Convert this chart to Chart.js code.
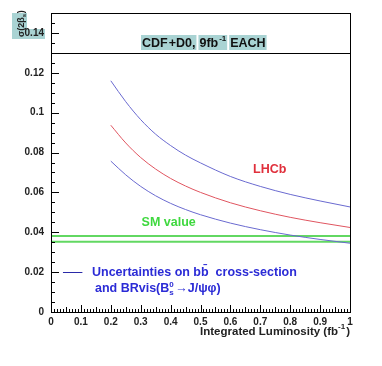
<!DOCTYPE html>
<html>
<head>
<meta charset="utf-8">
<script src="https://cdn.jsdelivr.net/npm/chart.js@4"></script>
<style>
  html, body { margin: 0; padding: 0; background: #fff; }
  #wrap { width: 382px; height: 366px; }
</style>
</head>
<body>
<div id="wrap"><canvas id="chart" width="382" height="366"></canvas></div>
<script>
// values
const lumi = [0.2, 0.25, 0.3, 0.35, 0.4, 0.45, 0.5, 0.6, 0.7, 0.8, 0.9, 1.0];
const upperBand = [0.116, 0.1055, 0.0965, 0.0892, 0.0835, 0.0787, 0.0748, 0.068, 0.063, 0.059, 0.0557, 0.0527];
const central = [0.0937, 0.0848, 0.0775, 0.0717, 0.067, 0.0632, 0.060, 0.0548, 0.0508, 0.0475, 0.0448, 0.0424];
const lowerBand = [0.0757, 0.0688, 0.063, 0.0583, 0.0545, 0.0514, 0.0488, 0.0446, 0.0413, 0.0386, 0.0364, 0.0345];
const smRange = [0, 1];
const smLow = [0.0353, 0.0353];
const smHigh = [0.0381, 0.0381];
const xTicks = [0, 0.1, 0.2, 0.3, 0.4, 0.5, 0.6, 0.7, 0.8, 0.9, 1];
const yTicks = [0, 0.02, 0.04, 0.06, 0.08, 0.1, 0.12, 0.14];
const headerLine = 0.13;

const FAMILY = "'Liberation Sans', Arial, sans-serif";
const TEAL = "#a9d3d3";

function font(size) {
  return "bold " + size + "px " + FAMILY;
}

function pts(xs, ys) {
  return xs.map((x, i) => ({ x: x, y: ys[i] }));
}

function curve(data, color) {
  return {
    data: data,
    borderColor: color,
    borderWidth: 1,
    pointRadius: 0,
    cubicInterpolationMode: "monotone",
    fill: false,
  };
}

// title pieces: text, gap before it
const titleParts = [["CDF", 0], ["+D0,", 1], ["9fb", 4], ["EACH", 4]];
const TITLE_X = 142;
const TITLE_Y = 47;

// frame, inside ticks, header line and all the free text
const decorations = {
  id: "decorations",
  beforeDraw(chart) {
    const ctx = chart.ctx;
    ctx.save();
    // highlight behind y-axis label and 0.14
    ctx.fillStyle = TEAL;
    ctx.fillRect(12, 13, 15, 25);
    ctx.fillRect(12, 29, 33, 10);
    // title highlight boxes
    ctx.font = font(12.5);
    let cx = TITLE_X;
    titleParts.forEach(([p, gap]) => {
      cx += gap;
      let w = ctx.measureText(p).width;
      if (p === "9fb") w += 8; // room for the -1 superscript
      ctx.fillRect(cx - 1, 35, w + 2, 15);
      cx += w;
    });
    ctx.restore();
  },
  afterDatasetsDraw(chart) {
    const ctx = chart.ctx;
    const x = chart.scales.x;
    const y = chart.scales.y;
    const a = chart.chartArea;
    ctx.save();
    ctx.strokeStyle = "#000";
    ctx.lineWidth = 1;
    ctx.strokeRect(Math.round(a.left) + 0.5, Math.round(a.top) + 0.5,
      Math.round(a.right - a.left), Math.round(a.bottom - a.top));
    // header separator
    const hy = Math.round(y.getPixelForValue(headerLine)) + 0.5;
    ctx.beginPath();
    ctx.moveTo(a.left, hy);
    ctx.lineTo(a.right, hy);
    ctx.stroke();

    // y ticks pointing inward (minor every 0.005)
    ctx.beginPath();
    for (let k = 0; k <= 30; k++) {
      const py = Math.round(y.getPixelForValue(k * 0.005)) + 0.5;
      const len = k % 4 === 0 ? 8 : 4;
      ctx.moveTo(a.left, py);
      ctx.lineTo(a.left + len, py);
    }
    // x ticks pointing up (minor every 0.01)
    for (let k = 0; k <= 100; k++) {
      const px = Math.round(x.getPixelForValue(k / 100)) + 0.5;
      const len = k % 10 === 0 ? 7 : (k % 5 === 0 ? 5 : 3);
      ctx.moveTo(px, a.bottom);
      ctx.lineTo(px, a.bottom - len);
    }
    ctx.stroke();

    // title
    ctx.fillStyle = "#111";
    ctx.textBaseline = "alphabetic";
    ctx.font = font(12.5);
    let tx = TITLE_X;
    titleParts.forEach(([p, gap]) => {
      tx += gap;
      ctx.font = font(12.5);
      ctx.fillText(p, tx, TITLE_Y);
      tx += ctx.measureText(p).width;
      if (p === "9fb") {
        ctx.font = font(8);
        ctx.fillText("-1", tx + 1, TITLE_Y - 6);
        tx += 8;
      }
    });

    // y-axis label, rotated
    ctx.save();
    ctx.translate(24, 37);
    ctx.rotate(-Math.PI / 2);
    ctx.font = font(9);
    ctx.fillStyle = "#222";
    ctx.fillText("\u03c3(2\u03b2", 0, 0);
    let lx = ctx.measureText("\u03c3(2\u03b2").width;
    ctx.font = font(6);
    ctx.fillText("s", lx, 2);
    lx += 4;
    ctx.font = font(9);
    ctx.fillText(")", lx, 0);
    ctx.restore();

    // LHCb and SM value labels
    ctx.textBaseline = "middle";
    ctx.font = font(12.5);
    ctx.fillStyle = "#e0303c";
    ctx.fillText("LHCb", x.getPixelForValue(0.676), y.getPixelForValue(0.0715));
    ctx.fillStyle = "#3fd83f";
    ctx.fillText("SM value", x.getPixelForValue(0.303), y.getPixelForValue(0.045));

    // legend
    const ly = Math.round(y.getPixelForValue(0.02)) + 0.5;
    ctx.strokeStyle = "#2a2aa8";
    ctx.beginPath();
    ctx.moveTo(x.getPixelForValue(0.04), ly);
    ctx.lineTo(x.getPixelForValue(0.105), ly);
    ctx.stroke();
    ctx.fillStyle = "#2b2bd6";
    ctx.font = font(12.5);
    ctx.fillText("Uncertainties on bb\u0304  cross-section", x.getPixelForValue(0.137), ly);
    let bx = x.getPixelForValue(0.147);
    const by = ly + 16;
    ctx.fillText("and BRvis(B", bx, by);
    bx += ctx.measureText("and BRvis(B").width;
    ctx.font = font(8);
    ctx.fillText("0", bx, by - 4);
    ctx.fillText("s", bx, by + 4);
    bx += 6;
    ctx.font = font(12.5);
    ctx.fillText("\u2192J/\u03c8\u03c6)", bx, by);

    // x-axis title, right aligned
    ctx.fillStyle = "#222";
    ctx.textBaseline = "alphabetic";
    ctx.font = font(11.5);
    const t1 = "Integrated Luminosity (fb";
    const w1 = ctx.measureText(t1).width;
    const w2 = ctx.measureText(")").width;
    const right = a.right;
    ctx.fillText(")", right - w2, 335);
    ctx.font = font(8);
    const ws = ctx.measureText("-1").width + 1;
    ctx.fillText("-1", right - w2 - ws, 329);
    ctx.font = font(11.5);
    ctx.fillText(t1, right - w2 - ws - w1, 335);
    ctx.restore();
  },
};

new Chart(document.getElementById("chart"), {
  type: "line",
  data: {
    datasets: [
      curve(pts(lumi, upperBand), "#6a6ad0"),
      curve(pts(lumi, central), "#e05560"),
      curve(pts(lumi, lowerBand), "#6a6ad0"),
      {
        data: pts(smRange, smHigh),
        borderColor: "#62d862",
        borderWidth: 2,
        pointRadius: 0,
        fill: false,
      },
      {
        data: pts(smRange, smLow),
        borderColor: "#62d862",
        borderWidth: 2,
        pointRadius: 0,
        fill: false,
      },
    ],
  },
  options: {
    responsive: false,
    animation: false,
    layout: { padding: { top: 13, right: 32, left: 0, bottom: 0 } },
    plugins: { legend: { display: false }, tooltip: { enabled: false } },
    scales: {
      x: {
        type: "linear",
        min: 0,
        max: 1,
        afterFit: (s) => { s.height = 54; },
        afterBuildTicks: (s) => { s.ticks = xTicks.map((v) => ({ value: v })); },
        grid: { display: false, drawTicks: false },
        border: { display: false },
        ticks: {
          padding: 4,
          color: "#222",
          font: { family: FAMILY, size: 10, weight: "bold" },
          callback: (v) => String(Math.round(v * 10) / 10),
        },
      },
      y: {
        min: 0,
        max: 0.15,
        afterFit: (s) => { s.width = 51; },
        afterBuildTicks: (s) => { s.ticks = yTicks.map((v) => ({ value: v })); },
        grid: { display: false, drawTicks: false },
        border: { display: false },
        ticks: {
          padding: 7,
          color: "#222",
          font: { family: FAMILY, size: 10, weight: "bold" },
          callback: (v) => String(Math.round(v * 100) / 100),
        },
      },
    },
  },
  plugins: [decorations],
});
</script>
</body>
</html>
